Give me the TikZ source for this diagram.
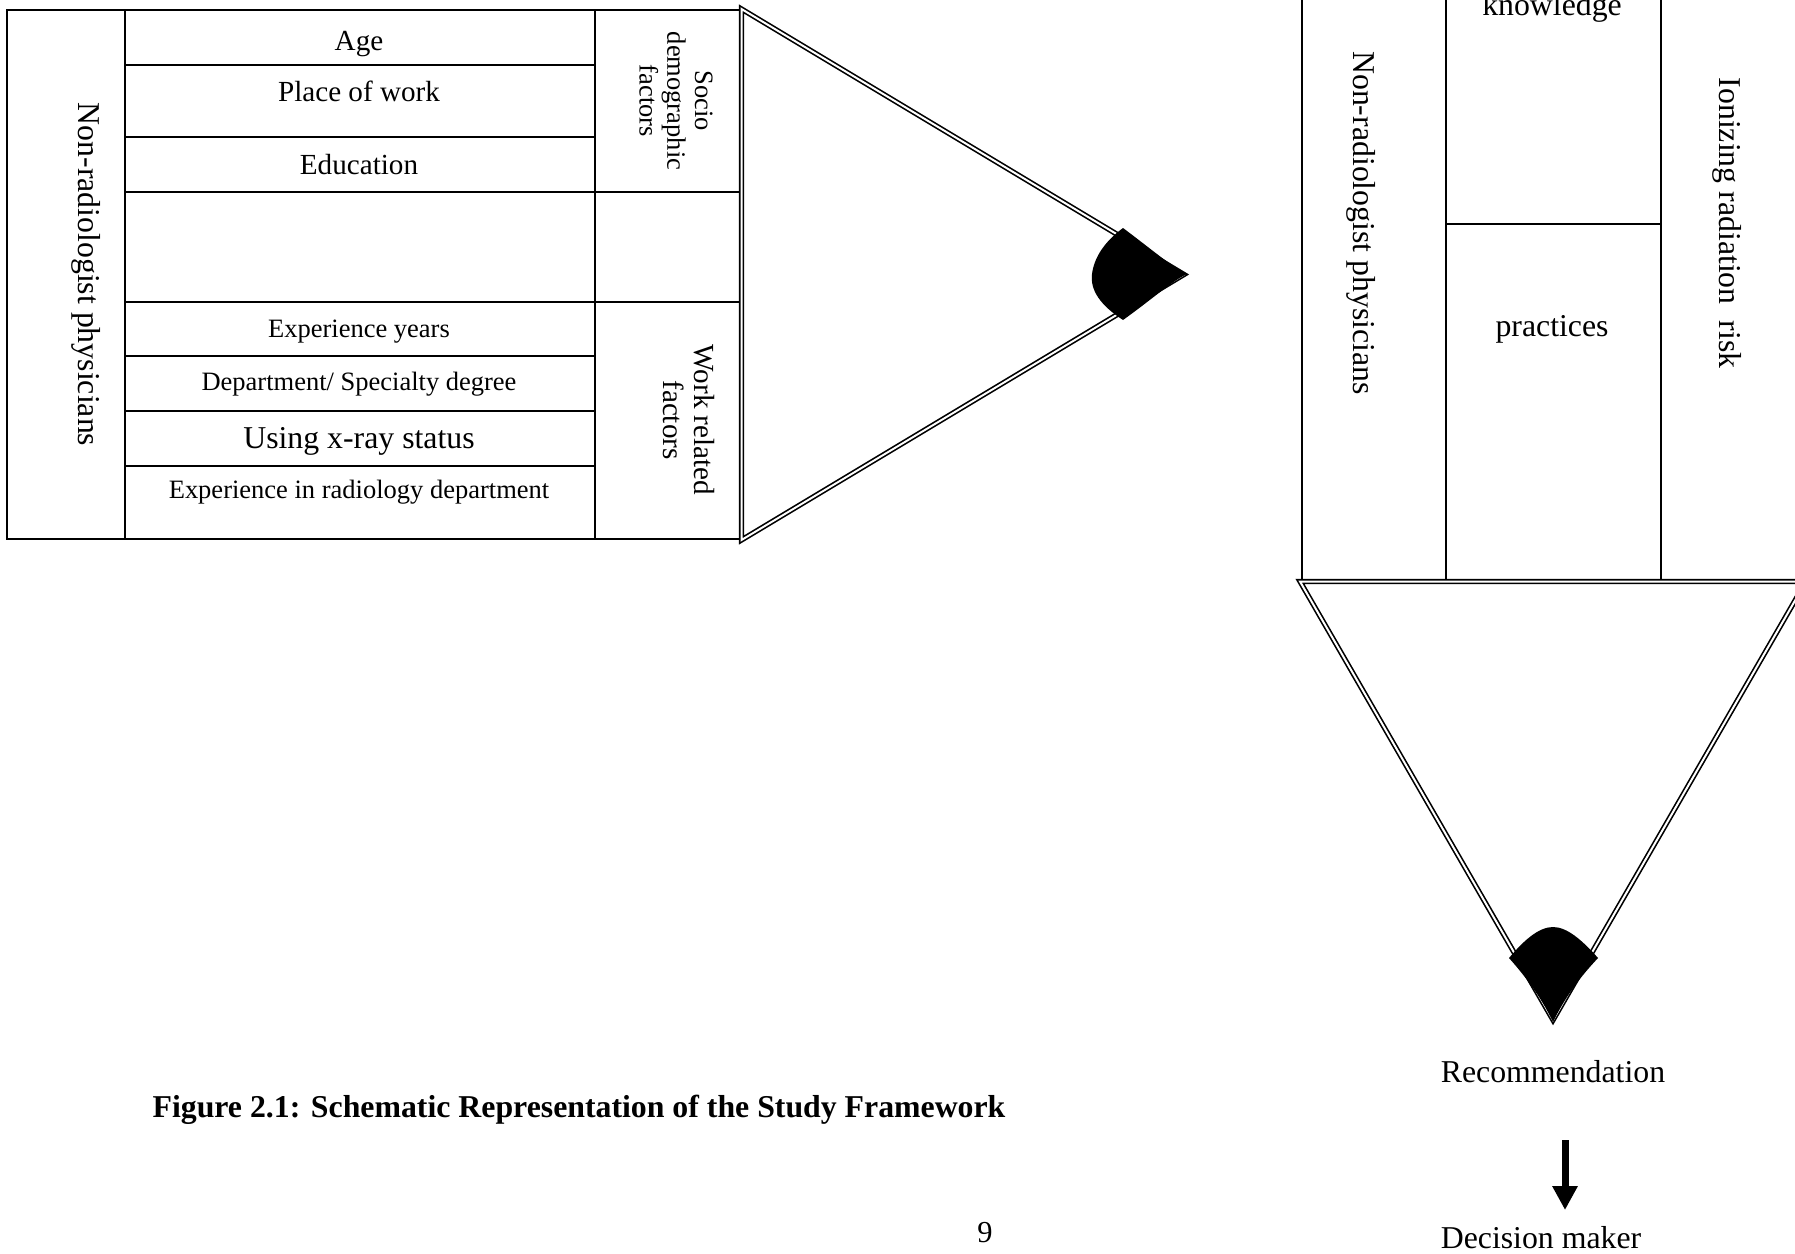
\documentclass[tikz,border=0pt]{standalone}
\usepackage{fontspec}
\setmainfont{Liberation Serif}
\usetikzlibrary{arrows.meta}
\begin{document}
\begin{tikzpicture}[x=0.3774pt, y=-0.3774pt,
  cell/.style={line width=0.72pt},
  dbl/.style={double, double distance=0.75pt, line width=0.62pt, line join=miter, miter limit=10},
  lbl/.style={inner sep=0pt, anchor=base},
  vlbl/.style={inner sep=0pt, rotate=-90, align=center},
  fA/.style={font=\fontsize{10pt}{10.5pt}\selectfont},
  fB/.style={font=\fontsize{11pt}{11.7pt}\selectfont},
  fC/.style={font=\fontsize{12pt}{14pt}\selectfont},
]
\useasboundingbox (0,0) rectangle (1795,1253);
\clip (0,0) rectangle (1795,1253);

% ---- left panel grid
\draw[cell] (740,10) -- (7,10) -- (7,539) -- (740,539);
\draw[cell] (125,10) -- (125,539);
\draw[cell] (595,10) -- (595,539);
\draw[cell] (125,65) -- (595,65);
\draw[cell] (125,137) -- (595,137);
\draw[cell] (125,192) -- (740,192);
\draw[cell] (125,302) -- (740,302);
\draw[cell] (125,356) -- (595,356);
\draw[cell] (125,411) -- (595,411);
\draw[cell] (125,466) -- (595,466);
\draw[cell] (740,10) -- (740,192);
\draw[cell] (740,302) -- (740,539);

% ---- upper pencil tip
\draw[dbl] (741.5,9) -- (1184,274.5) -- (741.5,540) -- cycle;
\fill (1123,228) .. controls (1155,252) and (1172,267) .. (1187,274)
  .. controls (1172,281) and (1155,297) .. (1123,320)
  .. controls (1100,305) and (1090,290) .. (1092,274)
  .. controls (1094,258) and (1104,242) .. (1123,228) -- cycle;

% ---- left panel texts
\node[lbl, fB] (age) at (359,50) {Age};
\node[lbl, fB] (place) at (359,101.7) {Place of work};
\node[lbl, fB] (edu) at (359,174) {Education};
\node[lbl, fA] (expy) at (359,337) {Experience years};
\node[lbl, fA] (dept) at (359,390) {Department/ Specialty degree};
\node[lbl, fC] (xray) at (359,448) {Using x-ray status};
\node[lbl, fA] (exprad) at (359,498) {Experience in radiology department};
\node[vlbl, fC] (nrpa) at (86,274.5) {Non-radiologist physicians};
\node[vlbl, fA] (socio) at (676,101) {Socio\\demographic\\factors};
\node[vlbl, fB] (work) at (689,420) {Work related\\factors};

% ---- right panel grid
\draw[cell] (1302,-5) -- (1302,583) -- (1800,583);
\draw[cell] (1446,-5) -- (1446,583);
\draw[cell] (1661,-5) -- (1661,583);
\draw[cell] (1446,224) -- (1661,224);

% ---- lower pencil tip
\draw[dbl] (1300,581.5) -- (1553,1020) -- (1806,581.5) -- cycle;
\fill (1509,958) .. controls (1524,940) and (1539,927) .. (1553,927)
  .. controls (1567,927) and (1582,940) .. (1598,958)
  .. controls (1582,975) and (1566,995) .. (1553,1022)
  .. controls (1540,995) and (1524,975) .. (1509,958) -- cycle;

% ---- right panel texts
\node[lbl, fC] (know) at (1552,15) {knowledge};
\node[lbl, fC] (prac) at (1552,336) {practices};
\node[vlbl, fC] (nrpb) at (1361,223) {Non-radiologist physicians};
\node[vlbl, fC] (ion) at (1727,223) {Ionizing radiation\ \ risk};
\node[lbl, fC] (rec) at (1553,1082) {Recommendation};
\node[lbl, fC] (dec) at (1541,1248) {Decision maker};

\coordinate (arrS) at (1565,1140);
\coordinate (arrE) at (1565,1210);
\draw[line width=2.64pt, -{Triangle[length=9.06pt,width=9.06pt]}] (arrS) -- (arrE);

% ---- caption and page number
\node[lbl, font=\fontsize{12pt}{14pt}\selectfont\bfseries] (title) at (579,1117) {Figure 2.1: Schematic Representation of the Study Framework};
\node[lbl, font=\fontsize{11.5pt}{13pt}\selectfont] (pnum) at (985,1242) {9};
\end{tikzpicture}
\end{document}
